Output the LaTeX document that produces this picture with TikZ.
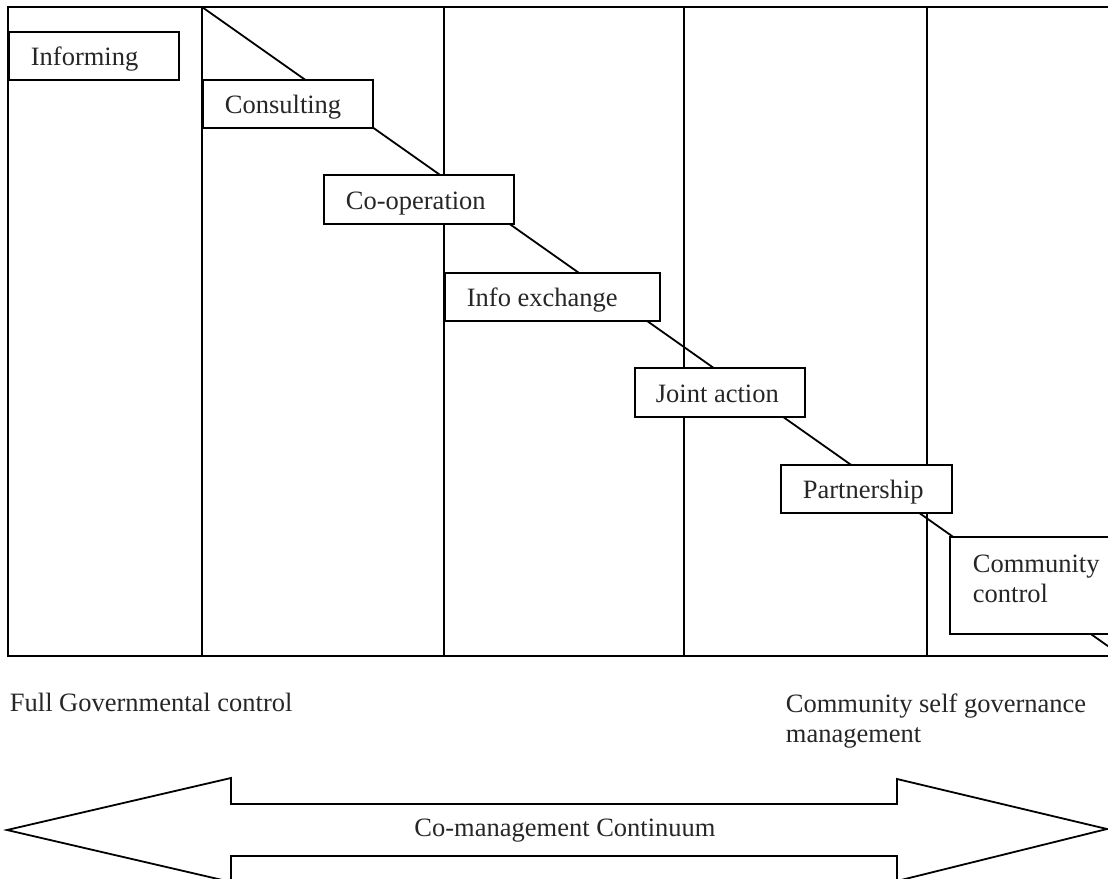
\documentclass[tikz,border=0pt]{standalone}
\usepackage{fontspec}
\setmainfont{Liberation Serif}
\begin{document}
\begin{tikzpicture}[x=1pt,y=-1pt,line width=1.8pt,
  stage/.style={draw, fill=white, rectangle, inner sep=0pt, anchor=north west},
  lbl/.style={font=\fontsize{26.5}{30}\selectfont, inner sep=0pt, anchor=base west, align=left, text=black!85},
]
\useasboundingbox (0,0) rectangle (1108,878);
\clip (0,0) rectangle (1108,878);

% frame and column dividers
\coordinate (tl) at (8,7);
\draw (tl) rectangle (1140,656);
\foreach \x in {202,444,684,927}
  \draw (\x,7) -- (\x,656);

% the diagonal running behind the stages
\coordinate (d0) at (202,7);
\coordinate (d1) at (1122,656);
\draw (d0) -- (d1);

% stages
\node[stage, minimum width=170pt, minimum height=48pt] (inf)   at (8,31)   {};
\node[stage, minimum width=170pt, minimum height=48pt] (con)   at (202,79) {};
\node[stage, minimum width=190pt, minimum height=49pt] (coop)  at (323,174) {};
\node[stage, minimum width=215pt, minimum height=48pt] (info)  at (444,272) {};
\node[stage, minimum width=170pt, minimum height=49pt] (joint) at (634,367) {};
\node[stage, minimum width=171pt, minimum height=48pt] (part)  at (780,464) {};
\node[stage, minimum width=200pt, minimum height=97pt] (comm)  at (949,536) {};

\node[lbl] (inf-t)   at ([shift={(22,34)}]inf.north west)   {Informing};
\node[lbl] (con-t)   at ([shift={(22,34)}]con.north west)   {Consulting};
\node[lbl] (coop-t)  at ([shift={(22,35)}]coop.north west)  {Co-operation};
\node[lbl] (info-t)  at ([shift={(22,34)}]info.north west)  {Info exchange};
\node[lbl] (joint-t) at ([shift={(21,35)}]joint.north west) {Joint action};
\node[lbl] (part-t)  at ([shift={(22,34)}]part.north west)  {Partnership};
% two-line labels: base is the baseline of the last line
\node[lbl] (comm-t)  at ([shift={(23,66)}]comm.north west)  {Community\\control};

% end labels
\node[lbl] (gov) at (9,711)   {Full Governmental control};
\node[lbl] (csg) at (785,742) {Community self governance\\management};

% continuum arrow
\draw (7,830) -- (231,778) -- (231,804) -- (897,804) -- (897,779) -- (1107,829)
      -- (897,881) -- (897,856) -- (231,856) -- (231,882) -- cycle;
\node[lbl, anchor=base] (cont) at (565,836) {Co-management Continuum};
\end{tikzpicture}
\end{document}
